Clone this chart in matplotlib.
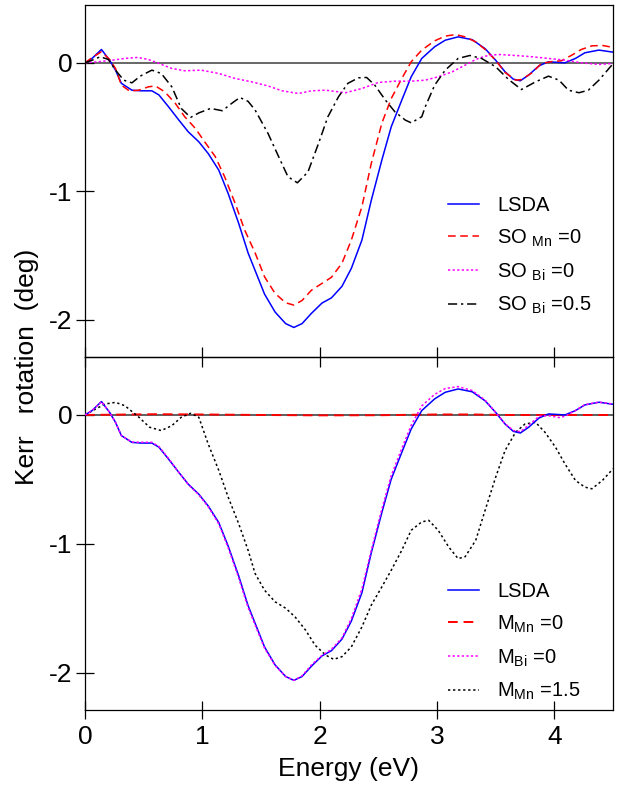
import matplotlib
matplotlib.use('Agg')
import matplotlib.pyplot as plt

plt.rcParams['font.family'] = ['Liberation Sans', 'DejaVu Sans']
plt.rcParams['mathtext.fontset'] = 'custom'
plt.rcParams['mathtext.rm'] = 'Liberation Sans'
plt.rcParams['mathtext.it'] = 'Liberation Sans:italic'
plt.rcParams['axes.unicode_minus'] = False

# ---- data (energy in eV, Kerr rotation in deg) ----
# LSDA (used in both panels)
lsda_e = [0.00, 0.06, 0.14, 0.21, 0.26, 0.31, 0.40, 0.48, 0.57, 0.63,
          0.71, 0.80, 0.88, 0.97, 1.05, 1.14, 1.22, 1.31, 1.39, 1.53,
          1.62, 1.71, 1.78, 1.85, 1.93, 2.02, 2.10, 2.19, 2.27, 2.36,
          2.44, 2.53, 2.61, 2.70, 2.78, 2.87, 2.98, 3.07, 3.18, 3.30,
          3.41, 3.50, 3.58, 3.65, 3.71, 3.78, 3.87, 3.95, 4.04, 4.09,
          4.18, 4.26, 4.38, 4.50]
lsda_v = [0.00, 0.034, 0.104, 0.020, -0.057, -0.160, -0.213, -0.218, -0.218, -0.250,
          -0.340, -0.446, -0.537, -0.615, -0.706, -0.835, -1.017, -1.250, -1.480, -1.800,
          -1.940, -2.030, -2.060, -2.030, -1.950, -1.870, -1.830, -1.740, -1.600, -1.380,
          -1.070, -0.757, -0.498, -0.290, -0.109, 0.034, 0.125, 0.176, 0.202, 0.180,
          0.110, 0.020, -0.070, -0.127, -0.140, -0.096, -0.023, 0.008, 0.003, 0.000,
          0.034, 0.078, 0.099, 0.083]

# top panel: SO_Mn = 0
so_mn_e = [0.00, 0.06, 0.14, 0.21, 0.26, 0.31, 0.38, 0.46, 0.54, 0.60,
           0.68, 0.77, 0.85, 0.94, 1.02, 1.11, 1.19, 1.28, 1.36, 1.45,
           1.53, 1.62, 1.71, 1.78, 1.85, 1.93, 2.02, 2.10, 2.19, 2.27,
           2.36, 2.44, 2.53, 2.61, 2.70, 2.78, 2.87, 2.98, 3.07, 3.16,
           3.24, 3.33, 3.41, 3.50, 3.58, 3.67, 3.72, 3.81, 3.89, 3.98,
           4.06, 4.15, 4.23, 4.32, 4.41, 4.50]
so_mn_v = [0.00, 0.040, 0.086, 0.026, -0.044, -0.174, -0.220, -0.213, -0.187, -0.180,
           -0.226, -0.316, -0.420, -0.510, -0.615, -0.730, -0.887, -1.095, -1.300, -1.480,
           -1.665, -1.795, -1.868, -1.886, -1.850, -1.770, -1.717, -1.670, -1.560, -1.380,
           -1.120, -0.783, -0.470, -0.278, -0.122, 0.008, 0.099, 0.171, 0.208, 0.220,
           0.202, 0.163, 0.104, 0.020, -0.075, -0.135, -0.130, -0.078, -0.005, 0.010,
           0.016, 0.060, 0.104, 0.132, 0.135, 0.120]

# top panel: SO_Bi = 0
so_bi_e = [0.00, 0.11, 0.23, 0.34, 0.45, 0.54, 0.63, 0.74, 0.85, 0.99,
           1.14, 1.28, 1.42, 1.56, 1.68, 1.82, 1.93, 2.05, 2.22, 2.36,
           2.50, 2.64, 2.78, 2.90, 3.01, 3.13, 3.24, 3.33, 3.41, 3.52,
           3.67, 3.81, 3.95, 4.09, 4.23, 4.38, 4.50]
so_bi_v = [0.00, 0.008, 0.020, 0.034, 0.042, 0.026, -0.005, -0.044, -0.062, -0.057,
           -0.083, -0.122, -0.148, -0.180, -0.218, -0.239, -0.218, -0.213, -0.233, -0.200,
           -0.153, -0.143, -0.143, -0.135, -0.109, -0.070, -0.018, 0.026, 0.052, 0.065,
           0.057, 0.047, 0.034, 0.021, 0.000, -0.013, -0.005]

# top panel: SO_Bi = 0.5
so_bi05_e = [0.00, 0.06, 0.13, 0.20, 0.26, 0.33, 0.40, 0.47, 0.57, 0.65,
             0.74, 0.82, 0.90, 0.97, 1.07, 1.17, 1.25, 1.32, 1.39, 1.45,
             1.56, 1.65, 1.73, 1.81, 1.90, 1.99, 2.07, 2.16, 2.24, 2.33,
             2.40, 2.47, 2.56, 2.64, 2.73, 2.78, 2.87, 2.90, 2.98, 3.07,
             3.18, 3.28, 3.38, 3.50, 3.61, 3.72, 3.84, 3.95, 4.04, 4.12,
             4.21, 4.29, 4.38, 4.49]
so_bi05_v = [0.00, 0.020, 0.047, 0.026, -0.057, -0.135, -0.156, -0.104, -0.057, -0.083,
             -0.187, -0.355, -0.425, -0.390, -0.355, -0.373, -0.316, -0.270, -0.300, -0.368,
             -0.550, -0.730, -0.887, -0.934, -0.850, -0.628, -0.420, -0.265, -0.160, -0.117,
             -0.114, -0.174, -0.290, -0.380, -0.446, -0.467, -0.420, -0.342, -0.174, -0.057,
             0.034, 0.057, 0.034, -0.031, -0.130, -0.208, -0.148, -0.104, -0.135, -0.213,
             -0.233, -0.213, -0.135, -0.018]

# bottom panel: M_Mn = 0 (flat)
m_mn0_e = [0.0, 0.3, 0.6, 1.0, 1.5, 2.0, 2.5, 3.0, 3.3, 3.6, 4.0, 4.5]
m_mn0_v = [0.0, 0.003, 0.006, 0.004, 0.0, -0.003, -0.002, 0.004, 0.004, 0.0, 0.0, 0.0]

# bottom panel: M_Bi = 0 (almost on top of LSDA)
m_bi_e = lsda_e
m_bi_v = [0.00, 0.034, 0.104, 0.020, -0.057, -0.160, -0.210, -0.212, -0.212, -0.245,
          -0.335, -0.446, -0.540, -0.620, -0.712, -0.845, -1.030, -1.265, -1.495, -1.810,
          -1.945, -2.030, -2.060, -2.025, -1.940, -1.865, -1.820, -1.730, -1.580, -1.350,
          -1.050, -0.730, -0.470, -0.260, -0.080, 0.070, 0.160, 0.205, 0.220, 0.190,
          0.115, 0.020, -0.068, -0.120, -0.130, -0.080, -0.010, -0.005, -0.020, -0.010,
          0.035, 0.080, 0.100, 0.085]

# bottom panel: M_Mn = 1.5
m_mn15_e = [0.00, 0.09, 0.17, 0.26, 0.34, 0.46, 0.55, 0.65, 0.74, 0.82,
            0.90, 0.97, 1.05, 1.14, 1.22, 1.31, 1.39, 1.45, 1.53, 1.62,
            1.71, 1.79, 1.88, 1.96, 2.05, 2.12, 2.19, 2.27, 2.36, 2.44,
            2.53, 2.61, 2.70, 2.78, 2.87, 2.93, 3.01, 3.10, 3.18, 3.24,
            3.33, 3.41, 3.50, 3.58, 3.67, 3.75, 3.84, 3.92, 4.01, 4.09,
            4.18, 4.26, 4.32, 4.41, 4.50]
m_mn15_v = [0.00, 0.046, 0.085, 0.098, 0.072, -0.018, -0.095, -0.121, -0.083, -0.018,
            0.013, -0.018, -0.225, -0.430, -0.637, -0.844, -1.050, -1.231, -1.360, -1.450,
            -1.500, -1.567, -1.670, -1.786, -1.863, -1.897, -1.876, -1.800, -1.645, -1.476,
            -1.334, -1.205, -1.050, -0.895, -0.830, -0.818, -0.895, -1.025, -1.115, -1.100,
            -0.973, -0.740, -0.483, -0.276, -0.134, -0.070, -0.057, -0.134, -0.250, -0.379,
            -0.508, -0.560, -0.573, -0.508, -0.418]

top_labels = ['LSDA', r'SO $_{\mathrm{Mn}}$ =0', r'SO $_{\mathrm{Bi}}$ =0', r'SO $_{\mathrm{Bi}}$ =0.5']
bot_labels = ['LSDA', r'M$_{\mathrm{Mn}}$ =0', r'M$_{\mathrm{Bi}}$ =0', r'M$_{\mathrm{Mn}}$ =1.5']

W, H = 623, 789
fig = plt.figure(figsize=(W / 100, H / 100), dpi=100)
# bottom panel added first so the shared border ticks of the top panel stay visible
ax_bot = fig.add_axes([85 / W, 1 - 710 / H, 528 / W, 353 / H])
ax_top = fig.add_axes([85 / W, 1 - 357 / H, 528 / W, 352 / H])

lw = 1.1
blue = '#0000ff'
red = '#ff0000'
mag = '#ff00ff'

# top panel
ax_top.axhline(0, color='#666666', lw=1.4, zorder=1)
l1, = ax_top.plot(lsda_e, lsda_v, color=blue, lw=lw)
l2, = ax_top.plot(so_mn_e, so_mn_v, color=red, lw=lw, dashes=(5, 3))
l3, = ax_top.plot(so_bi_e, so_bi_v, color=mag, lw=lw, dashes=(1.5, 1.5))
l4, = ax_top.plot(so_bi05_e, so_bi05_v, color='black', lw=lw, dashes=(6, 2.5, 1.5, 2.5))

# bottom panel
ax_bot.axhline(0, color='#444444', lw=1.2, zorder=1)
b1, = ax_bot.plot(lsda_e, lsda_v, color=blue, lw=lw, zorder=3)
b2, = ax_bot.plot(m_mn0_e, m_mn0_v, color=red, lw=1.4, dashes=(5, 3), zorder=2)
b3, = ax_bot.plot(m_bi_e, m_bi_v, color=mag, lw=lw, dashes=(1.5, 1.5), zorder=4)
b4, = ax_bot.plot(m_mn15_e, m_mn15_v, color='black', lw=lw, dashes=(1.5, 1.8), zorder=2)

for ax in (ax_top, ax_bot):
    ax.set_xlim(0, 4.5)
    ax.set_ylim(-2.29, 0.45)
    ax.set_yticks([-2, -1, 0])
    ax.set_yticklabels(['-2', '-1', '0'])
    ax.set_xticks([0, 1, 2, 3, 4])
    ax.set_facecolor('none')
    for s in ax.spines.values():
        s.set_linewidth(0.9)
    ax.tick_params(axis='y', direction='inout', length=12.5, width=0.9,
                   labelsize=19, pad=3)

ax_top.tick_params(axis='x', direction='inout', length=14, width=0.9, labelbottom=False)
ax_bot.tick_params(axis='x', direction='inout', length=13, width=0.9,
                   labelsize=19, pad=4)
ax_bot.set_xlabel('Energy (eV)', fontsize=19, labelpad=6)

fig.text(27 / W, 1 - 367 / H, 'Kerr   rotation  (deg)', rotation=90,
         ha='center', va='center', fontsize=19)

leg_kw = dict(loc='upper left', frameon=False, fontsize=14.5, handlelength=1.55,
              handletextpad=0.9, borderpad=0, borderaxespad=0, labelspacing=0.62)
ax_top.legend([l1, l2, l3, l4], top_labels,
              bbox_to_anchor=((448 - 85) / 528, (357 - 196) / 352), **leg_kw)
ax_bot.legend([b1, b2, b3, b4], bot_labels,
              bbox_to_anchor=((448 - 85) / 528, (710 - 582) / 353), **leg_kw)

plt.savefig('out.png', dpi=100)
